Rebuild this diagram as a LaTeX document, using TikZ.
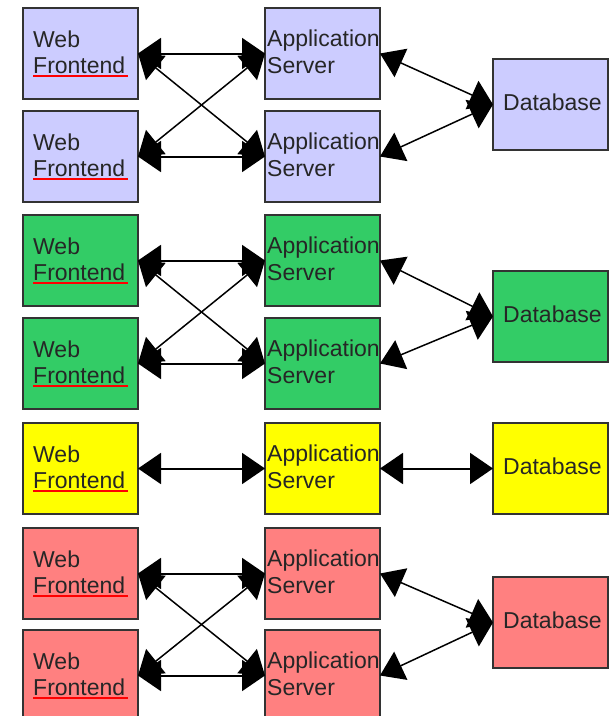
\documentclass[tikz,border=0pt]{standalone}
\usepackage{fontspec}
\setmainfont{Liberation Sans}
\usetikzlibrary{arrows.meta}

\definecolor{tierblue}{RGB}{204,204,255}
\definecolor{tiergreen}{RGB}{51,204,102}
\definecolor{tieryellow}{RGB}{255,255,0}
\definecolor{tierred}{RGB}{255,128,128}
\definecolor{spellred}{RGB}{255,0,0}

% text of a web front-end box, with its red spell-check underline
\newcommand\WebLabel[1]{%
  \node[lbl] (#1-t1) at ([shift={(10,39)}]#1.north west) {Web};
  \node[lbl] (#1-t2) at ([shift={(10,65)}]#1.north west) {Frontend};
  \draw[spell] ([shift={(10,68)}]#1.north west) -- ([shift={(105,68)}]#1.north west);}

% text of an application server box, cut off at the box edge
\newcommand\AppLabel[1]{%
  \begin{scope}
    \clip (#1.north west) rectangle (#1.south east);
    \node[lbl] (#1-t1) at ([shift={(2,38)}]#1.north west) {Application};
    \node[lbl] (#1-t2) at ([shift={(2,65)}]#1.north west) {Server};
  \end{scope}
  \draw[boxline] (#1.north west) rectangle (#1.south east);}

\newcommand\DbLabel[1]{%
  \node[lbl] (#1-t) at ([shift={(10,51)}]#1.north west) {Database};}

\begin{document}
\begin{tikzpicture}[x=1pt,y=-1pt,
  boxline/.style={draw=black!80, line width=2pt},
  tierbox/.style={boxline, minimum width=115pt, minimum height=91pt,
    inner sep=0pt, outer sep=0pt},
  link/.style={{Triangle[length=23pt,width=31pt]}-{Triangle[length=23pt,width=31pt]},
    line width=2pt},
  crosslink/.style={link, line width=1.5pt},
  lbl/.style={anchor=base west, inner sep=0pt,
    font=\fontsize{23pt}{26pt}\selectfont, text=black!85},
  spell/.style={draw=spellred, line width=2.2pt}]

\useasboundingbox (0,0) rectangle (610,716);
\fill[white] (0,0) rectangle (610,716);
\clip (0,0) rectangle (610,716);

% ---- blue tier ----
\node[tierbox, fill=tierblue] (bw1) at (80.5,53.5) {};
\node[tierbox, fill=tierblue] (bw2) at (80.5,156.5) {};
\node[tierbox, fill=tierblue] (ba1) at (322.5,53.5) {};
\node[tierbox, fill=tierblue] (ba2) at (322.5,156.5) {};
\node[tierbox, fill=tierblue] (bdb) at (550.5,104.5) {};

% ---- green tier ----
\node[tierbox, fill=tiergreen] (gw1) at (80.5,260.5) {};
\node[tierbox, fill=tiergreen] (gw2) at (80.5,363.5) {};
\node[tierbox, fill=tiergreen] (ga1) at (322.5,260.5) {};
\node[tierbox, fill=tiergreen] (ga2) at (322.5,363.5) {};
\node[tierbox, fill=tiergreen] (gdb) at (550.5,316.5) {};

% ---- yellow tier ----
\node[tierbox, fill=tieryellow] (yw1) at (80.5,468.5) {};
\node[tierbox, fill=tieryellow] (ya1) at (322.5,468.5) {};
\node[tierbox, fill=tieryellow] (ydb) at (550.5,468.5) {};

% ---- red tier ----
\node[tierbox, fill=tierred] (rw1) at (80.5,573.5) {};
\node[tierbox, fill=tierred] (rw2) at (80.5,675.5) {};
\node[tierbox, fill=tierred] (ra1) at (322.5,573.5) {};
\node[tierbox, fill=tierred] (ra2) at (322.5,675.5) {};
\node[tierbox, fill=tierred] (rdb) at (550.5,622.5) {};

% labels
\WebLabel{bw1} \WebLabel{bw2} \AppLabel{ba1} \AppLabel{ba2} \DbLabel{bdb}
\WebLabel{gw1} \WebLabel{gw2} \AppLabel{ga1} \AppLabel{ga2} \DbLabel{gdb}
\WebLabel{yw1} \AppLabel{ya1} \DbLabel{ydb}
\WebLabel{rw1} \WebLabel{rw2} \AppLabel{ra1} \AppLabel{ra2} \DbLabel{rdb}

% connectors: web <-> application <-> database
\foreach \t in {b,g,r}{
  \draw[link] (\t w1.east) -- (\t a1.west);
  \draw[link] (\t w2.east) -- (\t a2.west);
  \draw[crosslink] (\t w1.east) -- (\t a2.west);
  \draw[crosslink] (\t w2.east) -- (\t a1.west);
  \draw[crosslink] (\t a1.east) -- (\t db.west);
  \draw[crosslink] (\t a2.east) -- (\t db.west);
}
\draw[link] (yw1.east) -- (ya1.west);
\draw[link] (ya1.east) -- (ydb.west);

\end{tikzpicture}
\end{document}
